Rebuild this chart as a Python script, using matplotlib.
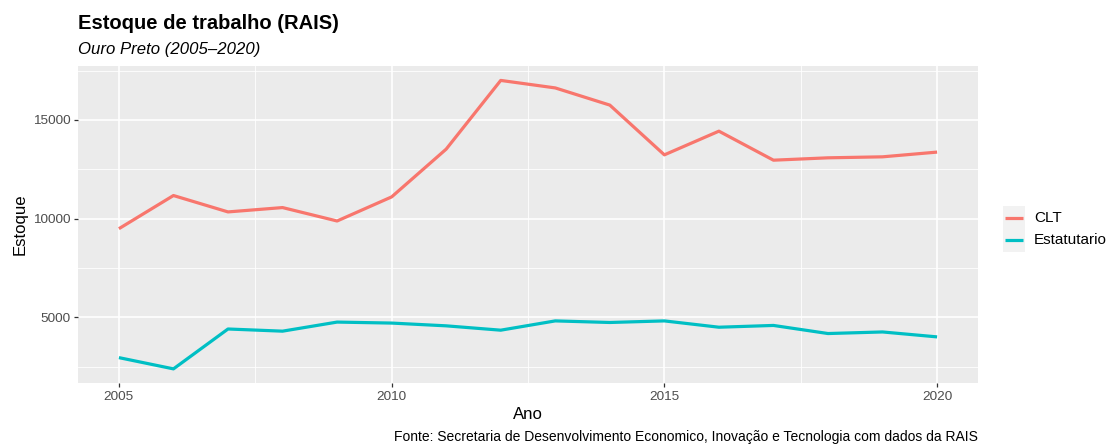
import matplotlib
matplotlib.use("Agg")
import matplotlib.pyplot as plt
from matplotlib.lines import Line2D
from matplotlib.patches import Rectangle

plt.rcParams['font.family'] = ['Liberation Sans', 'DejaVu Sans']

anos = [2005, 2006, 2007, 2008, 2009, 2010, 2011, 2012, 2013, 2014, 2015, 2016, 2017, 2018, 2019, 2020]
clt = [9490, 11170, 10340, 10560, 9880, 11100, 13520, 17000, 16620, 15750, 13230, 14430, 12960, 13080, 13130, 13370]
estatutario = [2960, 2390, 4410, 4300, 4760, 4710, 4570, 4350, 4820, 4740, 4820, 4500, 4590, 4180, 4260, 4010]
series_names = ["CLT", "Estatutario"]
series_colors = ["#F8766D", "#00BFC4"]
x_ticks = [2005, 2010, 2015, 2020]
y_ticks = [5000, 10000, 15000]

W, H = 1109, 444
fig = plt.figure(figsize=(W / 100, H / 100), dpi=100)
L, R, T, B = 78, 978, 66, 383.3
ax = fig.add_axes([L / W, 1 - B / H, (R - L) / W, (B - T) / H])
ax.set_facecolor("#EBEBEB")

allv = clt + estatutario
lo, hi = min(allv), max(allv)
pad = (hi - lo) * 0.05
ax.set_ylim(lo - pad, hi + pad)
ax.set_xlim(2005 - 0.75, 2020 + 0.75)

for v in [2007.5, 2012.5, 2017.5]:
    ax.axvline(v, color="white", lw=0.6, zorder=1)
for v in [2500, 7500, 12500, 17500]:
    ax.axhline(v, color="white", lw=0.6, zorder=1)
for v in x_ticks:
    ax.axvline(v, color="white", lw=1.2, zorder=1)
for v in y_ticks:
    ax.axhline(v, color="white", lw=1.2, zorder=1)

lw = 2.3
ax.plot(anos, clt, color=series_colors[0], lw=lw, zorder=3, solid_capstyle="butt")
ax.plot(anos, estatutario, color=series_colors[1], lw=lw, zorder=3, solid_capstyle="butt")

ax.set_xticks(x_ticks)
ax.set_xticklabels([str(t) for t in x_ticks])
ax.set_yticks(y_ticks)
ax.set_yticklabels([str(t) for t in y_ticks])
ax.tick_params(axis="both", length=3, width=0.9, color="#333333", labelcolor="#4D4D4D", labelsize=9.7, pad=2.4)
for s in ax.spines.values():
    s.set_visible(False)
ax.grid(False)

ax.set_xlabel("Ano", fontsize=12.1, labelpad=3)
ax.set_ylabel("Estoque", fontsize=12.1, labelpad=4)

fig.text(L / W, 1 - 29 / H, "Estoque de trabalho (RAIS)", fontsize=14.5, fontweight="bold", ha="left", va="baseline")
fig.text(L / W, 1 - 54 / H, "Ouro Preto (2005\u20132020)", fontsize=12.1, style="italic", ha="left", va="baseline")
fig.text(R / W, 1 - 441 / H, "Fonte: Secretaria de Desenvolvimento Economico, Inova\u00e7\u00e3o e Tecnologia com dados da RAIS",
         fontsize=10, ha="right", va="baseline")

# legend
key_x0, key_w, key_h = 1003, 22, 22.5
key_y0 = 206.5
for i, (name, col) in enumerate(zip(series_names, series_colors)):
    ytop = key_y0 + i * key_h
    fig.add_artist(Rectangle((key_x0 / W, 1 - (ytop + key_h) / H), key_w / W, key_h / H,
                             transform=fig.transFigure, facecolor="#F2F2F2", edgecolor="none"))
    yc = ytop + key_h / 2
    fig.add_artist(Line2D([1005 / W, 1023 / W], [1 - yc / H, 1 - yc / H], transform=fig.transFigure,
                          color=col, lw=lw, solid_capstyle="butt"))
    fig.text(1034 / W, 1 - yc / H, name, fontsize=11, ha="left", va="center")

fig.savefig("out.png", dpi=100)
